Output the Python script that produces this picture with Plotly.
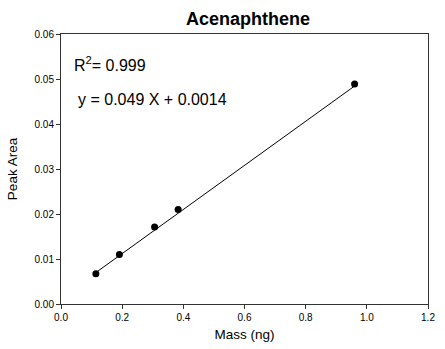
import numpy as np
import plotly.graph_objects as go

mass = [0.114, 0.191, 0.306, 0.383, 0.960]
peak_area = [0.0067, 0.0110, 0.0171, 0.0210, 0.0489]
x_ticks = [0.0, 0.2, 0.4, 0.6, 0.8, 1.0, 1.2]
y_ticks = [0.00, 0.01, 0.02, 0.03, 0.04, 0.05, 0.06]
slope, intercept = 0.049, 0.0014

fit_x = [min(mass), max(mass)]
fit_y = [slope * v + intercept for v in fit_x]

fig = go.Figure()
fig.add_trace(go.Scatter(x=fit_x, y=fit_y, mode="lines",
                         line=dict(color="black", width=1), showlegend=False))
fig.add_trace(go.Scatter(x=mass, y=peak_area, mode="markers",
                         marker=dict(color="black", size=7), showlegend=False))

font = "Liberation Sans, Arial, sans-serif"
fig.update_layout(
    width=445, height=349,
    margin=dict(l=61, r=10, t=34, b=44),
    plot_bgcolor="white", paper_bgcolor="white",
    font=dict(family=font, color="black"),
    title=dict(text="<b>Acenaphthene</b>", x=(61 + 435) / 2 / 445, xanchor="center",
               y=1 - 19 / 349, yanchor="middle", font=dict(size=18, family=font)),
    xaxis=dict(range=[0, 1.2], tickvals=x_ticks, ticktext=[f"{v:.1f}" for v in x_ticks],
               ticks="outside", ticklen=4, tickcolor="#333", showline=True, linecolor="#333",
               linewidth=1, mirror=True, showgrid=False, zeroline=False,
               tickfont=dict(size=10), title=dict(text="Mass (ng)", font=dict(size=13.5), standoff=7)),
    yaxis=dict(range=[0, 0.06], tickvals=y_ticks, ticktext=[f"{v:.2f}" for v in y_ticks],
               ticks="outside", ticklen=4, tickcolor="#333", showline=True, linecolor="#333",
               linewidth=1, mirror=True, showgrid=False, zeroline=False,
               tickfont=dict(size=10), title=dict(text="Peak Area", font=dict(size=13.5), standoff=13)),
    annotations=[
        dict(text="R<sup>2</sup>= 0.999", xref="paper", yref="paper", x=0.029, y=0.888,
             xanchor="left", yanchor="middle", showarrow=False, font=dict(size=16)),
        dict(text="y = 0.049 X + 0.0014", xref="paper", yref="paper", x=0.04, y=0.756,
             xanchor="left", yanchor="middle", showarrow=False, font=dict(size=16)),
    ],
)
fig.write_html("out.html")
